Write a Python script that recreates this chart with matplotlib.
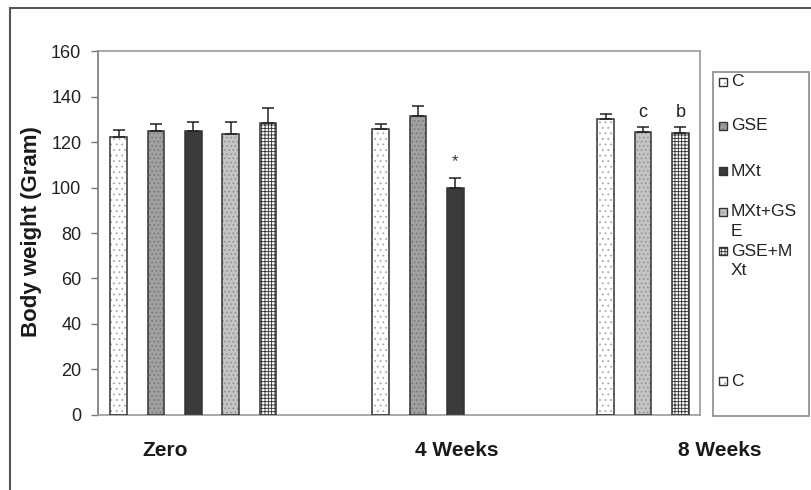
import matplotlib
matplotlib.use("Agg")
import matplotlib.pyplot as plt
from matplotlib.patches import Rectangle
from matplotlib.transforms import blended_transform_factory

plt.rcParams['font.family'] = ['Liberation Sans', 'DejaVu Sans']
plt.rcParams['hatch.linewidth'] = 0.6

# ---------------- data ----------------
groups = ['Zero', '4 Weeks', '8 Weeks']
series = ['C', 'GSE', 'MXt', 'MXt+GSE', 'GSE+MXt']

zero_series = ['C', 'GSE', 'MXt', 'MXt+GSE', 'GSE+MXt']
zero_mean = [122.2, 124.9, 124.9, 123.6, 128.6]
zero_err = [3.2, 3.0, 3.9, 5.2, 6.4]
zero_mark = ['', '', '', '', '']

w4_series = ['C', 'GSE', 'MXt']
w4_mean = [125.8, 131.5, 99.7]
w4_err = [2.2, 4.4, 4.4]
w4_mark = ['', '', '*']

w8_series = ['C', 'MXt+GSE', 'GSE+MXt']
w8_mean = [130.1, 124.4, 123.9]
w8_err = [2.3, 2.4, 2.9]
w8_mark = ['', 'c', 'b']

y_ticks = [0, 20, 40, 60, 80, 100, 120, 140, 160]
y_label = 'Body weight (Gram)'
legend_labels = ['C', 'GSE', 'MXt', 'MXt+GS\nE', 'GSE+M\nXt', 'C']
legend_styles = ['C', 'GSE', 'MXt', 'MXt+GSE', 'GSE+MXt', 'C']

# ---------------- styles ----------------
style = {
    'C':       dict(face='#ffffff', hatch='...', hcol='#a8a8a8'),
    'GSE':     dict(face='#a0a0a0', hatch='....', hcol='#747474'),
    'MXt':     dict(face='#3a3a3a', hatch=None, hcol='#3a3a3a'),
    'MXt+GSE': dict(face='#c4c4c4', hatch='....', hcol='#8e8e8e'),
    'GSE+MXt': dict(face='#ffffff', hatch='+++++', hcol='#2e2e2e'),
}
edge = '#333333'

W, H = 811, 490
fig = plt.figure(figsize=(W / 100, H / 100), dpi=100)
L, R, T, B = 98, 700, 51.5, 414.5
ax = fig.add_axes([L / W, 1 - B / H, (R - L) / W, (B - T) / H])

# layout (pixel-based positions converted to category units)
cat_px = (R - L) / 3.0
step = 37.4 / cat_px
bw = 16.5 / cat_px
group_start = [(118.5 - L) / cat_px, (380.5 - L) / cat_px, (605.5 - L) / cat_px]

datasets = [(zero_series, zero_mean, zero_err, zero_mark),
            (w4_series, w4_mean, w4_err, w4_mark),
            (w8_series, w8_mean, w8_err, w8_mark)]

for gi, (names, means, errs, marks) in enumerate(datasets):
    xs = [group_start[gi] + i * step for i in range(len(names))]
    for x, n, m, e, mk in zip(xs, names, means, errs, marks):
        st = style[n]
        ax.bar(x, m, width=bw, color=st['face'], hatch=st['hatch'],
               edgecolor=st['hcol'], linewidth=0, zorder=2)
        ax.bar(x, m, width=bw, fill=False, edgecolor=edge, linewidth=1.1, zorder=3)
        ax.errorbar(x, m, yerr=[[0], [e]], fmt='none', ecolor='#222222',
                    elinewidth=1.1, capsize=4, capthick=1.1, zorder=4)
        if mk:
            off = 12 if mk == '*' else 10
            ax.annotate(mk, (x, m + e), xytext=(0, off), textcoords='offset points',
                        ha='center', va='center', fontsize=13 if mk != '*' else 12,
                        color='#333333' if mk == '*' else '#222222')

ax.set_xlim(0, 3)
ax.set_ylim(0, 160)
ax.set_yticks(y_ticks)
ax.set_xticks([])
ax.tick_params(axis='y', direction='out', length=5, width=1, color='#777777',
               labelsize=13, labelcolor='#222222', pad=7)
for s in ['top', 'right', 'bottom']:
    ax.spines[s].set_color('#9a9a9a')
    ax.spines[s].set_linewidth(1.2)
ax.spines['left'].set_color('#777777')
ax.spines['left'].set_linewidth(1.2)

# category labels
tr = blended_transform_factory(ax.transData, ax.transAxes)
label_px = [165, 457, 720]
for g, px in zip(groups, label_px):
    ax.text((px - L) / cat_px, -(450 - B) / (B - T), g, transform=tr,
            ha='center', va='center', fontsize=15, fontweight='bold',
            color='#1a1a1a', clip_on=False)

fig.text(32 / W, 1 - 232 / H, y_label, rotation=90, ha='center', va='center',
         fontsize=16, fontweight='bold', color='#1a1a1a')

# outer frame
fig.patches.append(Rectangle((10 / W, -0.1), 1.2, 1 - 8 / H + 0.1,
                             transform=fig.transFigure, fill=False,
                             edgecolor='#555555', linewidth=1.5))

# legend box
lx0, lx1, ly0, ly1 = 713, 809, 72, 416
fig.patches.append(Rectangle((lx0 / W, 1 - ly1 / H), (lx1 - lx0) / W, (ly1 - ly0) / H,
                             transform=fig.transFigure, fill=True, facecolor='white',
                             edgecolor='#8a8a8a', linewidth=1.2))
legend_y = [82, 126, 171, 212, 251, 381]
for lab, sty, y in zip(legend_labels, legend_styles, legend_y):
    st = style[sty]
    sq = 8.0
    fig.patches.append(Rectangle((719 / W, 1 - (y + sq / 2) / H), sq / W, sq / H,
                                 transform=fig.transFigure, facecolor=st['face'],
                                 hatch=st['hatch'], edgecolor=st['hcol'], linewidth=0))
    fig.patches.append(Rectangle((719 / W, 1 - (y + sq / 2) / H), sq / W, sq / H,
                                 transform=fig.transFigure, fill=False,
                                 edgecolor=edge, linewidth=1.0))
    fig.text(731 / W, 1 - (y - 7.5) / H, lab, ha='left', va='top', fontsize=12.5,
             color='#222222', linespacing=1.35)

fig.savefig('out.png', dpi=100)
